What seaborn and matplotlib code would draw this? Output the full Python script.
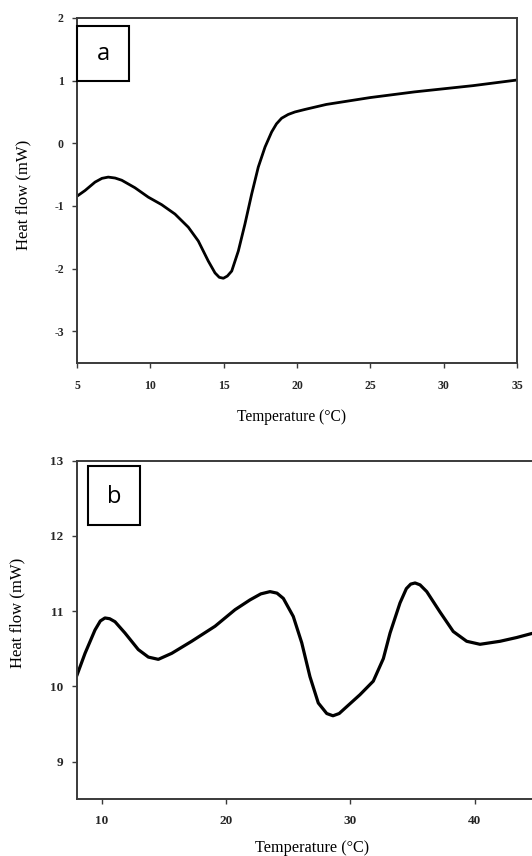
import numpy as np
import pandas as pd
import matplotlib
matplotlib.use("Agg")
import matplotlib.pyplot as plt
from matplotlib.patches import Rectangle
import seaborn as sns

# ---- data ----
temp_a = [5.0, 5.55, 6.23, 6.7, 7.13, 7.6, 8.05, 8.95, 9.86, 10.77, 11.68, 12.59,
          13.27, 13.95, 14.41, 14.7, 14.98, 15.25, 15.55, 16.0, 16.45, 16.91,
          17.36, 17.82, 18.27, 18.6, 18.95, 19.4, 19.86, 20.54, 22.0, 25.0,
          28.0, 30.0, 32.0, 35.0]
flow_a = [-0.845, -0.754, -0.62, -0.56, -0.54, -0.555, -0.59, -0.71, -0.86,
          -0.98, -1.13, -1.34, -1.56, -1.88, -2.07, -2.14, -2.155, -2.12, -2.04,
          -1.72, -1.29, -0.81, -0.38, -0.06, 0.18, 0.31, 0.40, 0.46, 0.50, 0.54,
          0.62, 0.73, 0.82, 0.87, 0.92, 1.01]

temp_b = [8.0, 8.67, 9.47, 9.9, 10.27, 10.65, 11.08, 11.88, 12.95, 13.76, 14.56,
          15.64, 17.24, 19.12, 20.73, 21.93, 22.8, 23.54, 24.1, 24.61, 25.41,
          26.09, 26.75, 27.42, 28.10, 28.6, 29.1, 29.70, 30.77, 31.84, 32.65,
          33.19, 33.99, 34.5, 34.85, 35.2, 35.6, 36.14, 37.2, 38.27, 39.35,
          40.42, 42.03, 43.37, 44.5, 45.5]
flow_b = [10.14, 10.44, 10.75, 10.87, 10.91, 10.90, 10.86, 10.71, 10.49, 10.39,
          10.36, 10.44, 10.60, 10.80, 11.02, 11.15, 11.23, 11.26, 11.24, 11.17,
          10.93, 10.58, 10.13, 9.78, 9.64, 9.61, 9.64, 9.73, 9.89, 10.07, 10.37,
          10.71, 11.11, 11.30, 11.36, 11.375, 11.35, 11.26, 10.99, 10.73, 10.60,
          10.56, 10.60, 10.65, 10.70, 10.74]

xticks_a = [5, 10, 15, 20, 25, 30, 35]
yticks_a = [-3, -2, -1, 0, 1, 2]
xticks_b = [10, 20, 30, 40]
yticks_b = [9, 10, 11, 12, 13]

xlabel = "Temperature (\u00b0C)"
ylabel = "Heat flow (mW)"

df_a = pd.DataFrame({"T": temp_a, "HF": flow_a})
df_b = pd.DataFrame({"T": temp_b, "HF": flow_b})

sns.set_theme(style="ticks")
plt.rcParams["font.family"] = ["Liberation Serif", "DejaVu Serif"]

W, H = 532, 856
fig = plt.figure(figsize=(W / 100, H / 100), dpi=100)
fig.patch.set_facecolor("white")

def px_axes(left, top, right, bottom):
    return fig.add_axes([left / W, 1 - bottom / H, (right - left) / W, (bottom - top) / H])

ax_a = px_axes(77, 18, 517, 362.5)
ax_b = px_axes(76.7, 460.7, 76.7 + 40 * 12.44, 799.3)

spine_col = "#3a3a3a"

for ax in (ax_a, ax_b):
    ax.set_facecolor("white")
    for s in ax.spines.values():
        s.set_color(spine_col)
        s.set_linewidth(1.4)
    ax.tick_params(axis="both", direction="out", length=3.5, width=1.0,
                   color=spine_col, pad=5)

sns.lineplot(data=df_a, x="T", y="HF", ax=ax_a, color="black", linewidth=2.0,
             sort=False)
sns.lineplot(data=df_b, x="T", y="HF", ax=ax_b, color="black", linewidth=2.3,
             sort=False)

for ln in ax_a.lines + ax_b.lines:
    ln.set_solid_joinstyle("round")
    ln.set_solid_capstyle("round")

ax_a.set_xlim(5, 35)
ax_a.set_ylim(-3.5, 2)
ax_a.set_xticks(xticks_a)
ax_a.set_yticks(yticks_a)
ax_b.set_xlim(8, 48)
ax_b.set_ylim(8.5, 13)
ax_b.set_xticks(xticks_b)
ax_b.set_yticks(yticks_b)

tick_font_a = dict(fontsize=8.5, fontweight="bold", family="Liberation Serif")
tick_font_b = dict(fontsize=9.5, fontweight="bold", family="Liberation Serif")
for ax, tf in ((ax_a, tick_font_a), (ax_b, tick_font_b)):
    ax.set_xticklabels([str(v) for v in ax.get_xticks().astype(int)], **tf)
    ax.set_yticklabels([str(v) for v in ax.get_yticks().astype(int)], **tf)
    ax.set_xlabel("")
    ax.set_ylabel("")

ax_a.tick_params(axis="x", pad=9)
ax_a.tick_params(axis="y", pad=6)
ax_b.tick_params(axis="x", pad=8)
ax_b.tick_params(axis="y", pad=6)
ax_b.spines["right"].set_visible(False)

fig.text(291.7 / W, 1 - 416.7 / H, xlabel, ha="center", va="center",
         fontsize=11.2, family="Liberation Serif", color="black")
fig.text(312 / W, 1 - 848 / H, xlabel, ha="center", va="center",
         fontsize=11.7, family="Liberation Serif", color="black")
fig.text(23 / W, 1 - 195 / H, ylabel, rotation=90, ha="center", va="center",
         fontsize=12, family="Liberation Serif", color="black")
fig.text(17 / W, 1 - 613 / H, ylabel, rotation=90, ha="center", va="center",
         fontsize=12, family="Liberation Serif", color="black")

def panel_box(left, top, right, bottom, letter):
    r = Rectangle((left / W, 1 - bottom / H), (right - left) / W, (bottom - top) / H,
                  transform=fig.transFigure, facecolor="white", edgecolor="black",
                  linewidth=1.5, zorder=5)
    fig.patches.append(r)
    fig.text((left + right) / 2 / W, 1 - ((top + bottom) / 2 + 1) / H, letter,
             ha="center", va="center", fontsize=17, family="Open Sans",
             color="black", zorder=6)

panel_box(77, 26, 129, 81, "a")
panel_box(88, 466, 140, 525, "b")

fig.savefig("out.png", dpi=100, facecolor="white")
